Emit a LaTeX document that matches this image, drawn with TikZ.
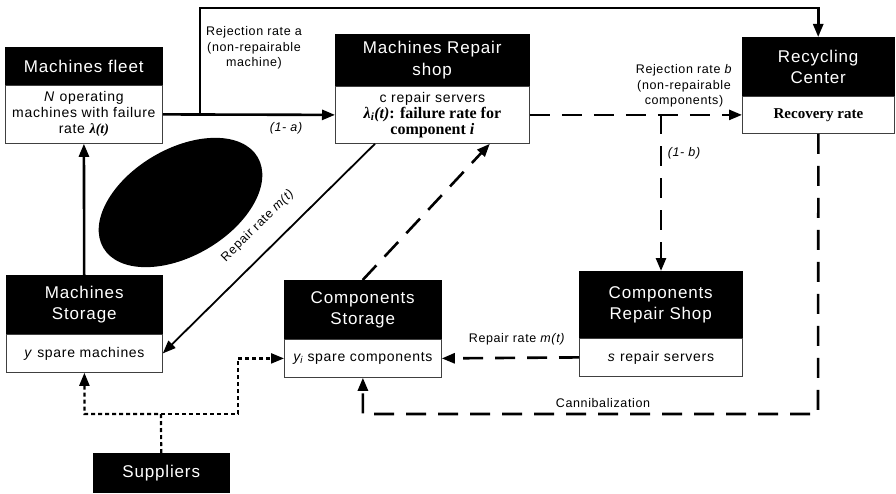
\documentclass[tikz,border=0pt]{standalone}
\usepackage{fontspec}
\setmainfont{Liberation Sans}[LetterSpace=5]
\newfontfamily\tms{Liberation Serif}
\usetikzlibrary{arrows.meta,shapes.geometric}
\newcommand{\tb}{\tms\bfseries\fontsize{15}{16}\selectfont}
\newcommand{\tbb}{\tms\bfseries\fontsize{16}{17}\selectfont}
\tikzset{
  hdr/.style={draw=black, fill=black, text=white, align=center, inner sep=0pt, anchor=north west,
    font=\fontsize{17}{21.5}\selectfont},
  bdy/.style={draw=black!75, line width=0.8pt, fill=white, align=center, inner sep=0pt, anchor=north west,
    font=\fontsize{14}{16}\selectfont},
  lbl/.style={align=center, inner sep=0pt, font=\fontsize{12.5}{15.5}\selectfont},
  tip/.style={-{Triangle[length=13pt,width=10pt]}},
  thickln/.style={line width=2.6pt},
  thinln/.style={line width=1.8pt},
  dashln/.style={line width=2.6pt, dash pattern=on 20pt off 12pt},
  dotln/.style={line width=2.2pt, dash pattern=on 4pt off 3pt},
}
\begin{document}
\begin{tikzpicture}[x=1pt,y=-1pt]
\useasboundingbox (0,0) rectangle (896,494);
% blob
\node[ellipse, fill=black, inner sep=0pt, minimum width=179pt, minimum height=107pt, rotate=30.4] (blob) at (180.5,202.5) {};
% Machines fleet
\node[hdr, minimum width=157pt, minimum height=38pt] (mfh) at (5,47) {Machines fleet};
\node[bdy, minimum width=157pt, minimum height=58pt] (mf) at (5,85) {\textit{N} operating\\machines with failure\\rate \tms\bfseries\itshape λ(t)};
% Machines repair shop
\node[hdr, minimum width=194pt, minimum height=52pt] (mrh) at (335,34) {Machines Repair\\shop};
\node[bdy, minimum width=194pt, minimum height=57pt] (mr) at (335,86) {c repair servers\\\tbb\textit{λ\textsubscript{i}(t)}: failure rate for\\\tbb component \textit{i}};
% Recycling center
\node[hdr, minimum width=152pt, minimum height=59pt] (rch) at (742,37) {Recycling\\Center};
\node[bdy, minimum width=152pt, minimum height=37pt] (rc) at (742,96) {\tb Recovery rate};
% Machines storage
\node[hdr, minimum width=156pt, minimum height=59pt] (msh) at (6,275) {Machines\\Storage};
\node[bdy, minimum width=156pt, minimum height=38pt] (ms) at (6,334) {\textit{y} spare machines};
% Components storage
\node[hdr, minimum width=157pt, minimum height=59pt] (csh) at (284,280) {Components\\Storage};
\node[bdy, minimum width=157pt, minimum height=38pt] (cs) at (284,339) {\textit{y\textsubscript{i}} spare components};
% Components repair shop
\node[hdr, minimum width=163pt, minimum height=67pt] (crsh) at (579,271) {Components\\Repair Shop};
\node[bdy, minimum width=163pt, minimum height=38pt] (crs) at (579,338) {\textit{s} repair servers};
% Suppliers
\node[hdr, minimum width=136pt, minimum height=39pt] (sup) at (93,453) {Suppliers};

% coordinates
\coordinate (split) at (200,114.5);
\coordinate (topl) at (200,8);
\coordinate (bsplit) at (661,114.5);
\coordinate (cn) at (818,414);
\coordinate (sj) at (161,414);
\coordinate (sk) at (238,414);

% connectors
\draw[thickln, tip] (mf.east) -- (mr.west);
\draw[thickln, tip] (split) -- (topl) -| (rch.north);
\draw[dashln, tip] (mr.east) -- (rc.west);
\draw[dashln, tip] (bsplit) -- (bsplit |- crsh.north);
\draw[dashln, tip] (rc.south) -- (cn) -| (cs.south);
\draw[dashln, tip] (crs.west) -- (cs.east);
\draw[thinln, tip] ([xshift=40pt]mr.south west) -- (ms.east);
\draw[dashln, tip] (csh.north) -- ([xshift=-40pt]mr.south east);
\draw[thickln, tip] (msh.north) -- (mf.south);
\draw[dotln, tip] (sup.north) -- (sj) -| (ms.south);
\draw[dotln, tip] (sj) -- (sk) |- (cs.west);

% labels
\node[lbl] (la) at (254,48) {Rejection rate a\\(non-repairable\\machine)};
\node[lbl, font=\fontsize{12.5}{15.5}\selectfont\itshape] (l1a) at (286,128) {(1- a)};
\node[lbl] (lb) at (684,86) {Rejection rate \textit{b}\\(non-repairable\\components)};
\node[lbl, font=\fontsize{12.5}{15.5}\selectfont\itshape] (l1b) at (684,153) {(1- b)};
\node[lbl] (lrc) at (517,339) {Repair rate \textit{m(t)}};
\node[lbl] (lcan) at (603,403) {Cannibalization};
\node[lbl, rotate=44.5] (lrm) at (258,226) {Repair rate \textit{m(t)}};
\end{tikzpicture}
\end{document}
